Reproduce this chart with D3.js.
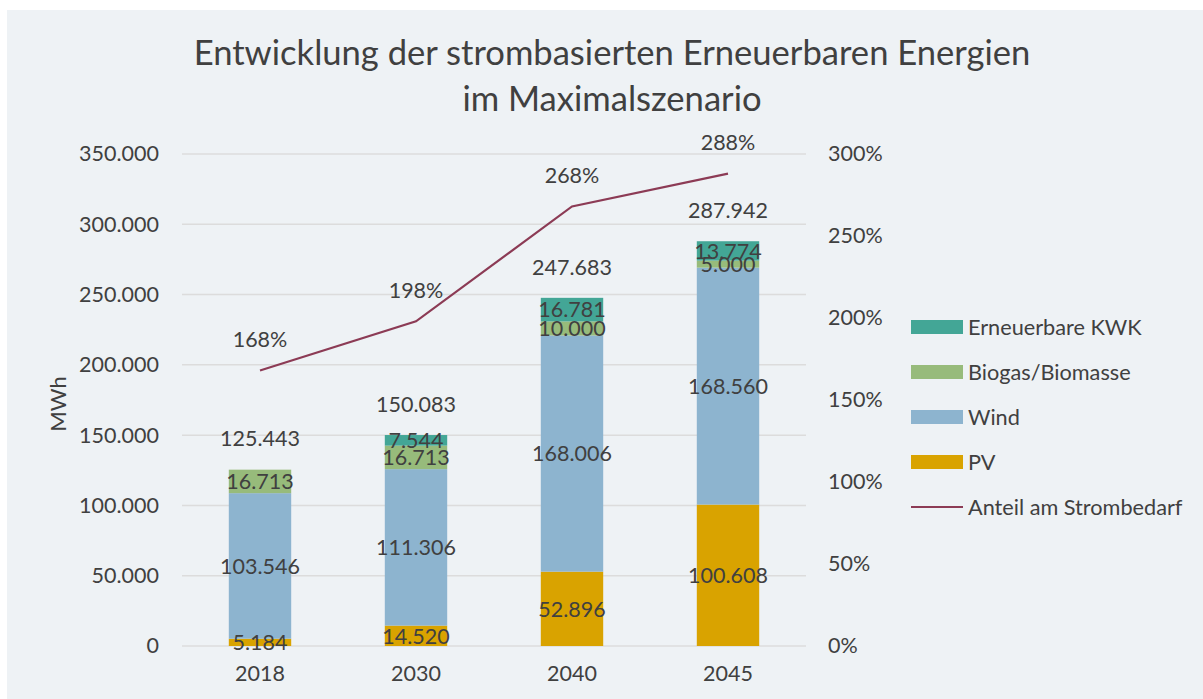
<!DOCTYPE html>
<html>
<head>
<meta charset="utf-8">
<script src="https://cdn.jsdelivr.net/npm/d3@7"></script>
<style>
  html, body { margin: 0; padding: 0; background: #ffffff; }
  svg { display: block; }
  text { font-family: Lato, "Open Sans", sans-serif; fill: #404040; }
</style>
</head>
<body>
<svg id="chart" width="1203" height="699"></svg>
<script>
// Electricity-based renewables in the maximum scenario (MWh per year)
const years = ["2018", "2030", "2040", "2045"];
const pv = [5184, 14520, 52896, 100608];
const wind = [103546, 111306, 168006, 168560];
const biogas = [16713, 16713, 10000, 5000];
const kwk = [0, 7544, 16781, 13774];
const share = [1.68, 1.98, 2.68, 2.88];      // share of electricity demand
const leftTicks = [0, 50000, 100000, 150000, 200000, 250000, 300000, 350000];
const rightTicks = [0, 0.5, 1, 1.5, 2, 2.5, 3];

const seriesNames = ["PV", "Wind", "Biogas/Biomasse", "Erneuerbare KWK"];
const seriesColors = ["#d9a300", "#8db4cf", "#97bb7b", "#43a696"];
const lineName = "Anteil am Strombedarf";
const lineColor = "#8c3b55";

const de = d3.formatLocale({ decimal: ",", thousands: ".", grouping: [3], currency: ["", " €"] });
const fmtNum = de.format(",d");
const fmtPct = v => Math.round(v * 100) + "%";

const svg = d3.select("#chart");
const W = 1203, H = 699;

// chart area background
svg.append("rect").attr("x", 7).attr("y", 10).attr("width", W - 7).attr("height", H - 10)
  .attr("fill", "#eef2f5");

const plot = { left: 182, right: 806, top: 154, bottom: 646 };

const x = d3.scaleBand().domain(years).range([plot.left, plot.right])
  .paddingInner(0.6).paddingOuter(0.3);
const y = d3.scaleLinear().domain([0, 350000]).range([plot.bottom, plot.top]);
const y2 = d3.scaleLinear().domain([0, 3]).range([plot.bottom, plot.top]);

// title
const title = svg.append("text").attr("text-anchor", "middle").attr("font-size", 34.6);
title.append("tspan").attr("x", 612).attr("y", 65).text("Entwicklung der strombasierten Erneuerbaren Energien");
title.append("tspan").attr("x", 612).attr("y", 111).text("im Maximalszenario");

// gridlines
svg.append("g").selectAll("line").data(leftTicks).join("line")
  .attr("x1", plot.left).attr("x2", plot.right)
  .attr("y1", d => y(d)).attr("y2", d => y(d))
  .attr("stroke", "#dcdcdc").attr("stroke-width", 1.5);

// left axis
const yAxis = d3.axisLeft(y).tickValues(leftTicks).tickFormat(fmtNum).tickSize(0).tickPadding(23);
const gy = svg.append("g").attr("transform", `translate(${plot.left},0)`).call(yAxis);
gy.select(".domain").remove();
gy.selectAll("text").attr("font-size", 21.5).attr("fill", "#404040").style("font-family", "Lato, sans-serif");

// right axis
const y2Axis = d3.axisRight(y2).tickValues(rightTicks).tickFormat(fmtPct).tickSize(0).tickPadding(22);
const gy2 = svg.append("g").attr("transform", `translate(${plot.right},0)`).call(y2Axis);
gy2.select(".domain").remove();
gy2.selectAll("text").attr("font-size", 21.5).attr("fill", "#404040").style("font-family", "Lato, sans-serif");

// x axis
const xAxis = d3.axisBottom(x).tickSize(0).tickPadding(20);
const gx = svg.append("g").attr("transform", `translate(0,${plot.bottom})`).call(xAxis);
gx.select(".domain").remove();
gx.selectAll("text").attr("font-size", 21.5).attr("fill", "#404040").style("font-family", "Lato, sans-serif");

// y axis title
svg.append("text").attr("transform", "translate(66,404) rotate(-90)")
  .attr("text-anchor", "middle").attr("font-size", 22).text("MWh");

// stacked bars
const rows = years.map((yr, i) => ({ year: yr, PV: pv[i], Wind: wind[i], "Biogas/Biomasse": biogas[i], "Erneuerbare KWK": kwk[i] }));
const stacked = d3.stack().keys(seriesNames)(rows);

const gBars = svg.append("g");
stacked.forEach((layer, li) => {
  const g = gBars.append("g").attr("fill", seriesColors[li]);
  g.selectAll("rect").data(layer).join("rect")
    .attr("x", d => x(d.data.year))
    .attr("width", x.bandwidth())
    .attr("y", d => y(d[1]))
    .attr("height", d => y(d[0]) - y(d[1]));
});

// segment value labels
const gLab = svg.append("g").attr("text-anchor", "middle").attr("font-size", 21.5);
stacked.forEach(layer => {
  gLab.selectAll(null).data(layer.filter(d => d[1] - d[0] > 0)).join("text")
    .attr("x", d => x(d.data.year) + x.bandwidth() / 2)
    .attr("y", d => (y(d[0]) + y(d[1])) / 2)
    .attr("dy", "0.36em")
    .text(d => fmtNum(d[1] - d[0]));
});

// totals above the bars
const totals = rows.map((r, i) => pv[i] + wind[i] + biogas[i] + kwk[i]);
gLab.selectAll(null).data(totals).join("text")
  .attr("x", (d, i) => x(years[i]) + x.bandwidth() / 2)
  .attr("y", d => y(d) - 31)
  .attr("dy", "0.36em")
  .text(d => fmtNum(d));

// share line
const line = d3.line().x((d, i) => x(years[i]) + x.bandwidth() / 2).y(d => y2(d));
svg.append("path").datum(share).attr("d", line)
  .attr("fill", "none").attr("stroke", lineColor).attr("stroke-width", 2.2);

gLab.selectAll(null).data(share).join("text")
  .attr("x", (d, i) => x(years[i]) + x.bandwidth() / 2)
  .attr("y", d => y2(d) - 31)
  .attr("dy", "0.36em")
  .text(d => fmtPct(d));

// legend
const legendItems = [
  { name: "Erneuerbare KWK", color: seriesColors[3], type: "rect" },
  { name: "Biogas/Biomasse", color: seriesColors[2], type: "rect" },
  { name: "Wind", color: seriesColors[1], type: "rect" },
  { name: "PV", color: seriesColors[0], type: "rect" },
  { name: lineName, color: lineColor, type: "line" }
];
const lg = svg.append("g").attr("transform", "translate(911,327)");
const li = lg.selectAll("g").data(legendItems).join("g")
  .attr("transform", (d, i) => `translate(0,${i * 45})`);
li.filter(d => d.type === "rect").append("rect")
  .attr("x", 0).attr("y", -7).attr("width", 52).attr("height", 14).attr("fill", d => d.color);
li.filter(d => d.type === "line").append("line")
  .attr("x1", 0).attr("x2", 52).attr("y1", 0).attr("y2", 0)
  .attr("stroke", d => d.color).attr("stroke-width", 2.2);
li.append("text").attr("x", 57).attr("dy", "0.36em").attr("font-size", 21.7).text(d => d.name);
</script>
</body>
</html>
